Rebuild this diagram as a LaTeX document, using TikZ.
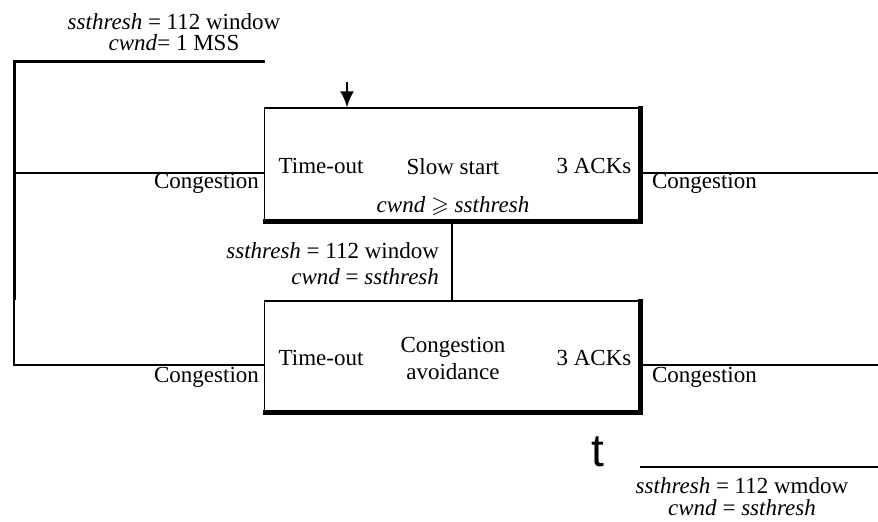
\documentclass[tikz,border=0pt]{standalone}
\usepackage{amssymb}
\usepackage{fontspec}
\setmainfont{Liberation Serif}
\newfontfamily\bigsans{Liberation Sans}
\usetikzlibrary{arrows.meta,positioning,calc}

\begin{document}
\begin{tikzpicture}[x=0.5pt,y=-0.5pt,>={Latex[length=8pt,width=7pt]},font=\fontsize{11.5}{13}\selectfont,
  state/.style={draw,line width=0.6pt,minimum width=187.5pt,inner sep=0pt},
  heavy/.style={line width=2.5pt},
  link/.style={line width=0.6pt},
  stem/.style={line width=1.3pt}]
\useasboundingbox (0,0) rectangle (878,521);

% the two states
\node[state,minimum height=56.5pt] (ss) at (452,164.5) {};
\node[state,minimum height=55.5pt] (ca) at (452,356.5) {};
\draw[heavy] ([yshift=0.5pt]ss.north east) -- (ss.south east) -- ([xshift=-0.5pt]ss.south west);
\draw[heavy] ([yshift=0.5pt]ca.north east) -- (ca.south east) -- ([xshift=-0.5pt]ca.south west);

\node (ssto) at (321,166) {Time-out};
\node (ssname) at (453,167) {Slow start};
\node (ssack) at (594,166) {3 ACKs};
\node (sscond) at (453,206) {\textit{cwnd} $\geqslant$ \textit{ssthresh}};

\node (cato) at (321,358) {Time-out};
\node[align=center,font=\fontsize{11.5}{13.5}\selectfont] (caname) at (453,358) {Congestion\\avoidance};
\node (caack) at (594,358) {3 ACKs};

% start
\coordinate (entry) at (347,82);
\draw[->,stem] (entry) -- (entry |- ss.north);
\coordinate (tl) at (14,61);
\coordinate (tr) at (265,61);
\coordinate (bl) at (14,300);
\draw[line width=1.5pt] (tr) -- (tl) -- (bl);
\node[align=center,font=\fontsize{11.5}{10.5}\selectfont] (init) at (174,32) {\textit{ssthresh} = 112 window\\\textit{cwnd}= 1 MSS};

% time-out loops
\draw[link] ($(ss.west)+(0,8.5)$) -| (bl);
\draw[link] ($(ca.west)+(0,8.5)$) -| (bl);
\node[anchor=east] (sstofail) at (266,183) {Congestion};
\node[anchor=east] (catofail) at (266,377) {Congestion};

% 3 ACKs exits
\coordinate (ssout) at (878,173);
\coordinate (caout) at (878,365);
\draw[link] ($(ss.east)+(0,8.5)$) -- (ssout);
\draw[link] ($(ca.east)+(0,8.5)$) -- (caout);
\node[anchor=west] (ssackfail) at (645,183) {Congestion};
\node[anchor=west] (caackfail) at (645,377) {Congestion};

% slow start -> congestion avoidance
\draw[stem] (ss.south) -- (ca.north);
\node[anchor=east,align=right] (swap) at (446,264) {\textit{ssthresh} = 112 window\\\textit{cwnd} = \textit{ssthresh}};

% fast recovery
\node[font=\bigsans\fontsize{23}{23}\selectfont] (tmark) at (598,452) {t};
\coordinate (fl) at (640,467);
\coordinate (fr) at (878,467);
\draw[stem] (fl) -- (fr);
\node[align=center,font=\fontsize{11.5}{11}\selectfont] (fast) at (742,497) {\textit{ssthresh} = 112 wmdow\\\textit{cwnd} = \textit{ssthresh}};
\end{tikzpicture}
\end{document}
